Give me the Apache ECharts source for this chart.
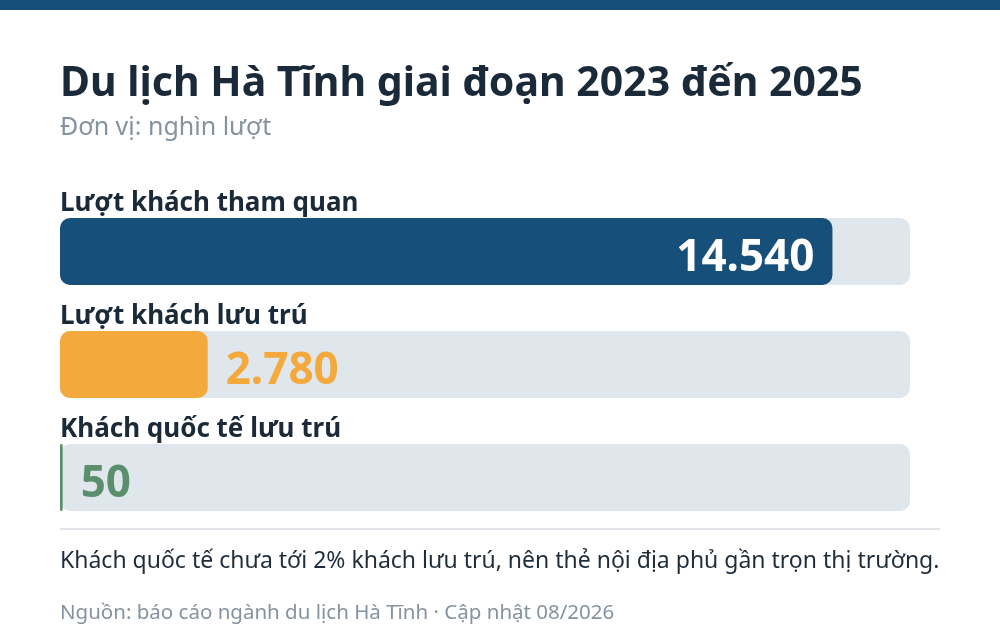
<!DOCTYPE html>
<html>
<head>
<meta charset="utf-8">
<script src="https://cdn.jsdelivr.net/npm/echarts@6/dist/echarts.min.js"></script>
<style>
  html, body { margin: 0; padding: 0; background: #fff; }
  #chart { width: 1000px; height: 640px; }
</style>
</head>
<body>
<div id="chart"></div>
<script>
// data
const categories = ['Lượt khách tham quan', 'Lượt khách lưu trú', 'Khách quốc tế lưu trú'];
const values = [14540, 2780, 50];
const barColors = ['#164f79', '#f4a93c', '#5b8f6c'];
const axisMax = 16000;

const FONT = '"Noto Sans", "Open Sans", sans-serif';

function fmt(v) {
  // vi-VN style thousands separator
  return String(v).replace(/\B(?=(\d{3})+(?!\d))/g, '.');
}

function buildData() {
  let list = [];
  for (var i = 0; i < values.length; i++) {
    let inside = i == 0;
    list.push({
      value: values[i],
      itemStyle: { color: barColors[i] },
      label: {
        show: true,
        position: inside ? 'insideRight' : 'right',
        distance: 18,
        offset: [0, 7],
        color: inside ? '#ffffff' : barColors[i],
        fontSize: 44,
        fontWeight: 'bold',
        fontFamily: FONT,
        formatter: function (p) { return fmt(p.value); }
      }
    });
  }
  return list;
}

var myChart = echarts.init(document.getElementById('chart'));
myChart.setOption({
  animation: false,
  title: {
    text: 'Du lịch Hà Tĩnh giai đoạn 2023 đến 2025',
    subtext: 'Đơn vị: nghìn lượt',
    left: 60,
    top: 64,
    itemGap: 10,
    padding: 0,
    textStyle: { fontSize: 41, fontWeight: 'bold', color: '#1b2a38', fontFamily: FONT },
    subtextStyle: { fontSize: 25, color: '#8593a1', fontFamily: FONT }
  },
  grid: { left: 60, right: 90, top: 195, height: 339, containLabel: false },
  xAxis: {
    type: 'value',
    min: 0,
    max: axisMax,
    show: false
  },
  yAxis: {
    type: 'category',
    data: categories,
    inverse: true,
    axisLine: { show: false },
    axisTick: { show: false },
    axisLabel: {
      inside: true,
      margin: 0,
      align: 'left',
      verticalAlign: 'bottom',
      padding: [0, 0, 35, 0],
      fontSize: 26,
      fontWeight: 'bold',
      color: '#1b2a38',
      fontFamily: FONT
    }
  },
  series: [
    {
      type: 'bar',
      barWidth: 67,
      data: buildData(),
      itemStyle: { borderRadius: 10 },
      showBackground: true,
      backgroundStyle: { color: '#dfe6ec', borderRadius: 10 }
    }
  ],
  graphic: [
    { type: 'rect', left: 0, top: 0, shape: { width: 1000, height: 10 }, style: { fill: '#164f79' } },
    { type: 'line', shape: { x1: 60, y1: 529, x2: 940, y2: 529 }, style: { stroke: '#e1e4e8', lineWidth: 2 } },
    {
      type: 'text', left: 60, top: 550,
      style: { text: 'Khách quốc tế chưa tới 2% khách lưu trú, nên thẻ nội địa phủ gần trọn thị trường.', fontSize: 23, fill: '#1f2d3a', fontFamily: FONT }
    },
    {
      type: 'text', left: 60, top: 603,
      style: { text: 'Nguồn: báo cáo ngành du lịch Hà Tĩnh · Cập nhật 08/2026', fontSize: 20.5, fill: '#8593a1', fontFamily: FONT }
    }
  ]
});
</script>
</body>
</html>
